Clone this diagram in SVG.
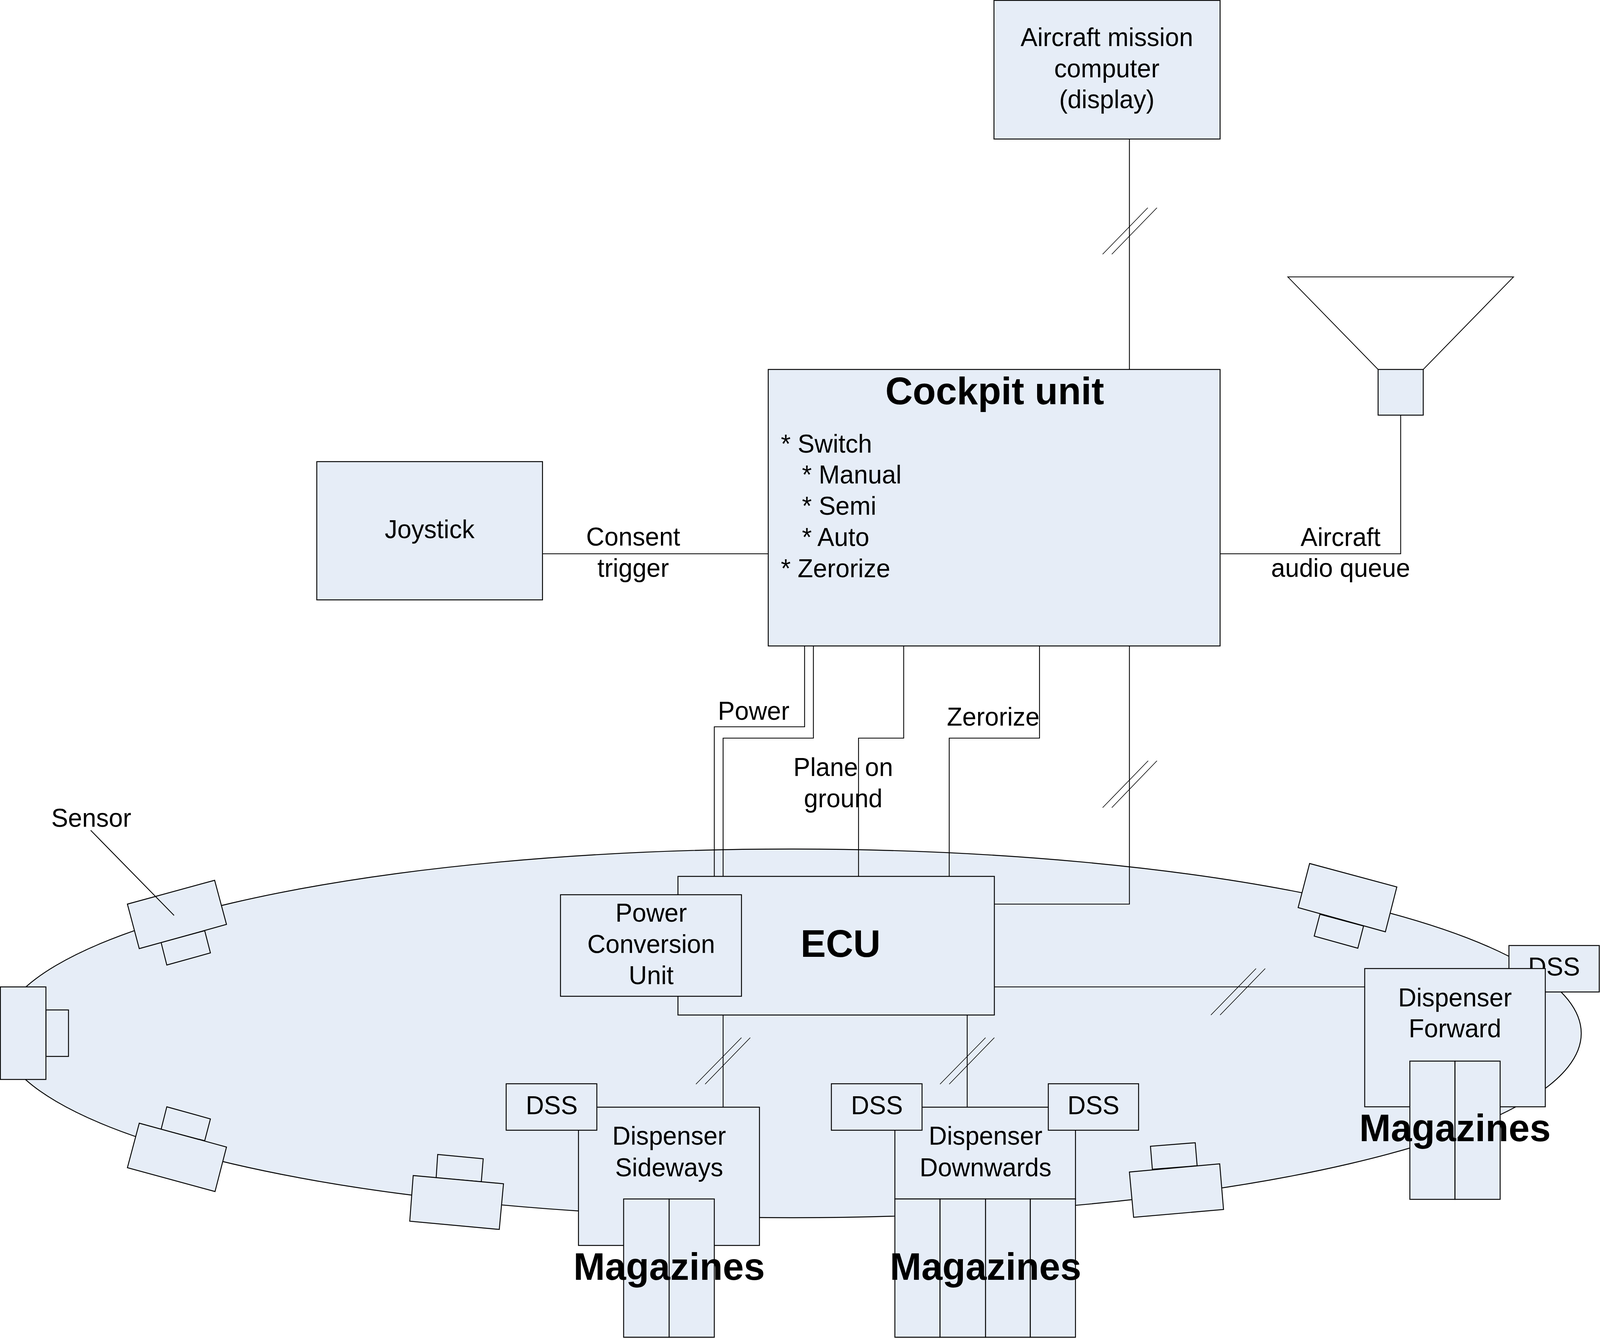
<svg xmlns="http://www.w3.org/2000/svg" width="4182" height="3426" viewBox="0 0 4182 3426" preserveAspectRatio="none" style="display:block;width:100vw;height:100vh">
<style>
.b{fill:#e6edf7;stroke:#000;stroke-width:2.4}
.w{fill:#fff;stroke:#000;stroke-width:2}
.c{fill:none;stroke:#000;stroke-width:2.2}
.s{fill:none;stroke:#000;stroke-width:1.6}
text{font-family:"Liberation Sans",Arial,sans-serif;fill:#000}
.t{font-size:66px}
.m{text-anchor:middle}
.h{font-size:99px;font-weight:bold;text-anchor:middle}
</style>
<rect width="4182" height="3426" fill="#fff"/>
<g id="hull"><ellipse class="b" cx="2067" cy="2646" rx="2066" ry="472"/></g>
<g id="sensor-left">
<rect class="b" x="120" y="2586" width="59" height="119"/>
<rect class="b" x="1" y="2527" width="119" height="237"/>
</g>
<g id="sensor-top-left">
<polygon class="b" points="421,2413 436,2471 550,2440 535,2383"/>
<polygon class="b" points="333,2315 561,2254 592,2367 364,2429"/>
</g>
<g id="sensor-bottom-left">
<polygon class="b" points="421,2892 436,2834 550,2865 535,2921"/>
<polygon class="b" points="364,2876 592,2937 562,3051 333,2990"/>
</g>
<g id="sensor-bottom-mid">
<polygon class="b" points="1140,3016 1144,2956 1263,2967 1258,3026"/>
<polygon class="b" points="1080,3010 1316,3031 1305,3148 1071,3127"/>
</g>
<g id="sensor-top-right">
<polygon class="b" points="3450,2341 3435,2397 3549,2428 3564,2371"/>
<polygon class="b" points="3423,2211 3651,2271 3621,2386 3393,2324"/>
</g>
<g id="sensor-bottom-right">
<polygon class="b" points="3012,2994 3007,2935 3124,2926 3129,2985"/>
<polygon class="b" points="2952,3001 3188,2980 3198,3097 2963,3117"/>
</g>
<g id="connectors">
<path class="c" d="M2952 356V946"/>
<path class="c" d="M1418 1418H2008"/>
<path class="c" d="M3189 1418H3661V1063"/>
<path class="c" d="M2103 1654V1861H1867V2244"/>
<path class="c" d="M2126 1654V1890H1890V2244"/>
<path class="c" d="M2362 1654V1890H2244V2244"/>
<path class="c" d="M2717 1654V1890H2481V2244"/>
<path class="c" d="M2952 1654V2315H2599"/>
<path class="c" d="M2599 2527H3567"/>
<path class="c" d="M1890 2599V2835"/>
<path class="c" d="M2528 2599V2835"/>
<path class="c" d="M237 2126L455 2344"/>
<path class="s" d="M2882 651L3000 532M2906 651L3024 532"/>
<path class="s" d="M2882 2068L3001 1948M2906 2068L3024 1948"/>
<path class="s" d="M3165 2599L3283 2480M3189 2599L3307 2480"/>
<path class="s" d="M1819 2776L1938 2657M1843 2776L1961 2657"/>
<path class="s" d="M2457 2776L2576 2657M2481 2776L2599 2657"/>
</g>
<g id="mission-computer">
<rect class="b" x="2598" y="1" width="591" height="355"/>
<text class="t m" x="2893" y="118">Aircraft mission</text>
<text class="t m" x="2893" y="198">computer</text>
<text class="t m" x="2893" y="277">(display)</text>
</g>
<g id="speaker">
<polygon class="w" points="3366,709 3956,709 3720,946 3602,946"/>
<rect class="b" x="3602" y="946" width="118" height="117"/>
</g>
<g id="joystick">
<rect class="b" x="828" y="1182" width="590" height="354"/>
<text class="t m" x="1123" y="1378">Joystick</text>
</g>
<g id="cockpit-unit">
<rect class="b" x="2008" y="946" width="1181" height="708"/>
<text class="h" x="2600" y="1035">Cockpit unit</text>
<text class="t" x="2041" y="1159">* Switch</text>
<text class="t" x="2096" y="1238">* Manual</text>
<text class="t" x="2096" y="1318">* Semi</text>
<text class="t" x="2096" y="1398">* Auto</text>
<text class="t" x="2041" y="1478">* Zerorize</text>
</g>
<g id="ecu">
<rect class="b" x="1772" y="2244" width="827" height="355"/>
<text class="h" x="2197" y="2450">ECU</text>
</g>
<g id="power-conversion-unit">
<rect class="b" x="1465" y="2291" width="473" height="260"/>
<text class="t m" x="1702" y="2360">Power</text>
<text class="t m" x="1702" y="2440">Conversion</text>
<text class="t m" x="1702" y="2520">Unit</text>
</g>
<g id="dispenser-sideways">
<rect class="b" x="1512" y="2835" width="473" height="354"/>
<text class="t m" x="1749" y="2931">Dispenser</text>
<text class="t m" x="1749" y="3012">Sideways</text>
</g>
<g id="dss-sideways">
<rect class="b" x="1323" y="2775" width="237" height="119"/>
<text class="t m" x="1442" y="2853">DSS</text>
</g>
<g id="magazines-sideways">
<rect class="b" x="1630" y="3070" width="119" height="354"/>
<rect class="b" x="1749" y="3070" width="118" height="354"/>
<text class="h" x="1749" y="3277">Magazines</text>
</g>
<g id="dispenser-downwards">
<rect class="b" x="2339" y="2835" width="472" height="235"/>
<text class="t m" x="2576" y="2931">Dispenser</text>
<text class="t m" x="2576" y="3012">Downwards</text>
</g>
<g id="dss-downwards-left">
<rect class="b" x="2173" y="2775" width="237" height="119"/>
<text class="t m" x="2292" y="2853">DSS</text>
</g>
<g id="dss-downwards-right">
<rect class="b" x="2740" y="2775" width="236" height="119"/>
<text class="t m" x="2858" y="2853">DSS</text>
</g>
<g id="magazines-downwards">
<rect class="b" x="2339" y="3070" width="118" height="354"/>
<rect class="b" x="2457" y="3070" width="119" height="354"/>
<rect class="b" x="2576" y="3070" width="117" height="354"/>
<rect class="b" x="2693" y="3070" width="118" height="354"/>
<text class="h" x="2576" y="3277">Magazines</text>
</g>
<g id="dss-forward">
<rect class="b" x="3944" y="2421" width="236" height="119"/>
<text class="t m" x="4062" y="2498">DSS</text>
</g>
<g id="dispenser-forward">
<rect class="b" x="3567" y="2480" width="472" height="354"/>
<text class="t m" x="3803" y="2577">Dispenser</text>
<text class="t m" x="3803" y="2656">Forward</text>
</g>
<g id="magazines-forward">
<rect class="b" x="3685" y="2717" width="118" height="354"/>
<rect class="b" x="3803" y="2717" width="118" height="354"/>
<text class="h" x="3803" y="2922">Magazines</text>
</g>
<g id="labels">
<text class="t" x="134" y="2117">Sensor</text>
<text class="t m" x="1655" y="1397">Consent</text>
<text class="t m" x="1655" y="1477">trigger</text>
<text class="t m" x="3504" y="1398">Aircraft</text>
<text class="t m" x="3504" y="1477">audio queue</text>
<text class="t m" x="1970" y="1843">Power</text>
<text class="t m" x="2596" y="1858">Zerorize</text>
<text class="t m" x="2204" y="1987">Plane on</text>
<text class="t m" x="2204" y="2067">ground</text>
</g>
</svg>
